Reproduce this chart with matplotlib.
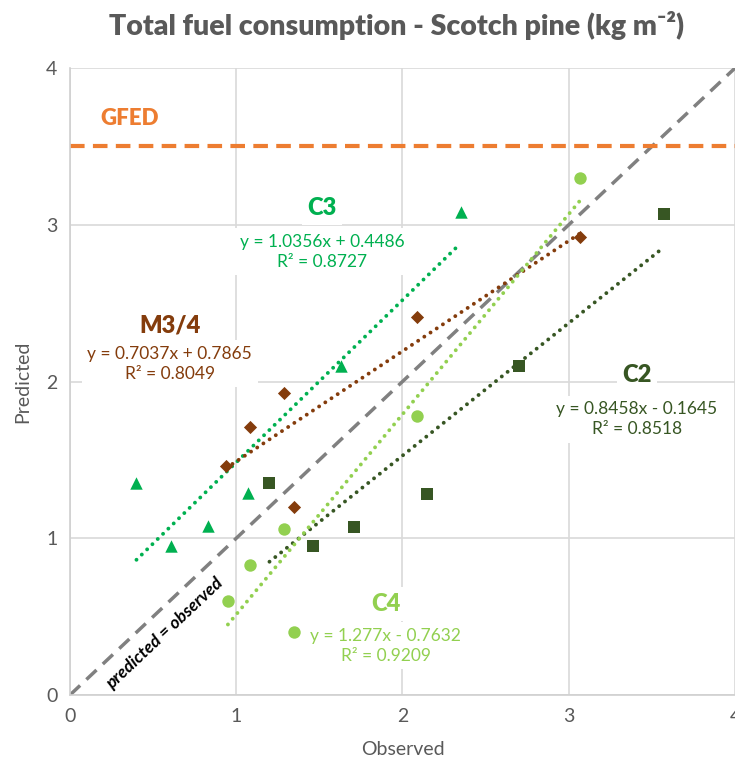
import numpy as np
import matplotlib
matplotlib.use('Agg')
import matplotlib.pyplot as plt

plt.rcParams['font.family'] = ['Lato', 'DejaVu Sans']

# observed / predicted per plot type
c3_obs = [0.40, 0.61, 0.83, 1.07, 1.63, 2.35]
c3_pred = [1.35, 0.95, 1.08, 1.29, 2.10, 3.08]
m34_obs = [0.94, 1.08, 1.29, 1.35, 2.09, 3.07]
m34_pred = [1.46, 1.71, 1.93, 1.20, 2.41, 2.92]
c2_obs = [1.20, 1.46, 1.71, 2.15, 2.70, 3.57]
c2_pred = [1.35, 0.95, 1.07, 1.28, 2.10, 3.07]
c4_obs = [0.95, 1.08, 1.29, 1.35, 2.09, 3.07]
c4_pred = [0.60, 0.83, 1.06, 0.40, 1.78, 3.30]

# trendline coefficients (slope, intercept, r2)
fits = {
    'C3': (1.0356, 0.4486, 0.8727),
    'M3/4': (0.7037, 0.7865, 0.8049),
    'C2': (0.8458, -0.1645, 0.8518),
    'C4': (1.277, -0.7632, 0.9209),
}
gfed = 3.5

grey = '#595959'
col_c3 = '#00B050'
col_m34 = '#843C0C'
col_c2 = '#375623'
col_c4 = '#92D050'
col_gfed = '#ED7D31'

fig = plt.figure(figsize=(7.35, 7.65), dpi=100)
ax = fig.add_axes([0.0952, 0.0915, 0.9048, 0.8195])
ax.set_xlim(0, 4)
ax.set_ylim(0, 4)
ax.set_xticks([0, 1, 2, 3, 4])
ax.set_yticks([0, 1, 2, 3, 4])
ax.grid(True, color='#D9D9D9', lw=1.2, zorder=0)
ax.tick_params(length=0, labelsize=14, labelcolor=grey, pad=9)
for s in ['top', 'right']:
    ax.spines[s].set_visible(False)
for s in ['left', 'bottom']:
    ax.spines[s].set_color('#D0D0D0')
    ax.spines[s].set_linewidth(1.2)

ax.set_xlabel('Observed', fontsize=14, color=grey, labelpad=12)
ax.set_ylabel('Predicted', fontsize=14, color=grey, labelpad=11)

# 1:1 line and GFED line
ax.axline((0, 0), slope=1, color='#808080', lw=2.5, ls=(0, (4, 2.5)), zorder=2)
ax.axhline(gfed, color=col_gfed, lw=3, ls=(0, (3.5, 2)), zorder=2)

series = [
    ('C3', c3_obs, c3_pred, col_c3, '^', 80),
    ('M3/4', m34_obs, m34_pred, col_m34, 'D', 45),
    ('C2', c2_obs, c2_pred, col_c2, 's', 70),
    ('C4', c4_obs, c4_pred, col_c4, 'o', 80),
]
for name, xo, yp, col, mk, sz in series:
    a, b, r2 = fits[name]
    xs = np.array([min(xo), max(xo)])
    ax.plot(xs, a * xs + b, color=col, lw=2.8, ls=(0, (0.01, 1.9)),
            dash_capstyle='round', zorder=3)
    ax.scatter(xo, yp, marker=mk, s=sz, color=col, zorder=4, linewidths=0)

box = dict(facecolor='white', edgecolor='none', pad=4)


def label(x, y_head, y_eq, name, col, eq):
    ax.text(x, y_head, name, color=col, fontsize=17, fontweight='heavy',
            ha='center', va='center', bbox=box, zorder=5)
    ax.text(x, y_eq, eq, color=col, fontsize=12.5, ha='center', va='center',
            linespacing=1.3, bbox=box, zorder=5)


def eq_text(name):
    a, b, r2 = fits[name]
    sign = '+' if b >= 0 else '-'
    return 'y = %gx %s %.4f\nR² = %.4f' % (a, sign, abs(b), r2)


label(1.516, 3.105, 2.827, 'C3', col_c3, eq_text('C3'))
label(0.60, 2.358, 2.112, 'M3/4', col_m34, eq_text('M3/4'))
label(3.41, 2.04, 1.760, 'C2', col_c2, eq_text('C2'))
label(1.90, 0.581, 0.313, 'C4', col_c4, eq_text('C4'))

ax.text(0.36, 3.68, 'GFED', color=col_gfed, fontsize=16, fontweight='heavy',
        ha='center', va='center')
ax.text(0.571, 0.396, 'predicted = observed', color='black', fontsize=12.5,
        fontweight='bold', style='italic', rotation=43.3,
        rotation_mode='anchor', ha='center', va='center', zorder=5)

fig.text(0.54, 0.967, 'Total fuel consumption - Scotch pine (kg m⁻²)',
         ha='center', va='center', fontsize=20.5, fontweight='heavy', color=grey)

fig.savefig('out.png', dpi=100)
